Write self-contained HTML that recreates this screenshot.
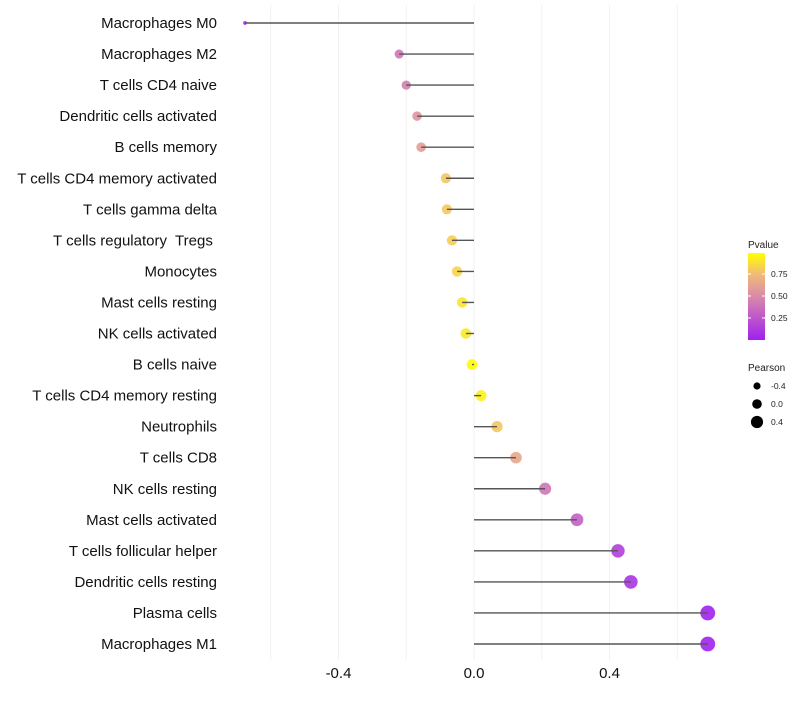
<!DOCTYPE html>
<html><head><meta charset="utf-8"><style>
body{margin:0;background:#fff;font-family:"Liberation Sans",sans-serif;}
svg text{font-family:"Liberation Sans",sans-serif;white-space:pre;}
</style></head><body>
<svg id="chart" width="800" height="700">
<defs><linearGradient id="pg" x1="0" y1="1" x2="0" y2="0">
<stop offset="0" stop-color="#a020f0"/><stop offset="0.5" stop-color="#d98aa8"/><stop offset="0.75" stop-color="#f2b97a"/><stop offset="1" stop-color="#ffff00"/></linearGradient></defs>
<g id="grid"></g>
<g id="marks"></g>
<g id="ylabels"></g>
<g id="xlabels"></g>
<g>
<text x="748" y="248" font-size="10" fill="#222">Pvalue</text>
<rect x="748" y="253" width="17" height="87" fill="url(#pg)"/>
<g id="cbticks"></g>
</g>
<g id="sizeleg">
<text x="748" y="371" font-size="10" fill="#222">Pearson</text>
</g>
</svg>
<script>
const categories=["Macrophages M0","Macrophages M2","T cells CD4 naive","Dendritic cells activated","B cells memory","T cells CD4 memory activated","T cells gamma delta","T cells regulatory  Tregs ","Monocytes","Mast cells resting","NK cells activated","B cells naive","T cells CD4 memory resting","Neutrophils","T cells CD8","NK cells resting","Mast cells activated","T cells follicular helper","Dendritic cells resting","Plasma cells","Macrophages M1"];
const pearson=[-0.676,-0.221,-0.2,-0.168,-0.156,-0.083,-0.08,-0.065,-0.05,-0.035,-0.024,-0.006,0.021,0.068,0.124,0.21,0.304,0.425,0.463,0.69,0.69];
const pvalue=[0.02,0.4,0.45,0.55,0.6,0.8,0.8,0.82,0.85,0.9,0.92,0.99,0.95,0.8,0.65,0.4,0.3,0.15,0.1,0.01,0.01];
const xTicks=[-0.4,0,0.4];
const xTickLabels=["-0.4","0.0","0.4"];
const minorTicks=[-0.6,-0.2,0.2,0.6];
const cbTicks=[0.25,0.5,0.75];
const sizeLegend=[-0.4,0,0.4];
const sizeLegendLabels=["-0.4","0.0","0.4"];
const NS="http://www.w3.org/2000/svg";
const x=v=>474+v*338.75;
const y=i=>23+i*31.05;
const r=v=>Math.sqrt(Math.max(2.5,29+38*v));
function mix(a,b,t){return a.map((c,k)=>Math.round(c+(b[k]-c)*t));}
function col(p){const s=[[0,[160,32,240]],[0.5,[217,138,168]],[0.75,[242,185,122]],[1,[255,255,0]]];
for(let k=1;k<s.length;k++){if(p<=s[k][0]){const t=(p-s[k-1][0])/(s[k][0]-s[k-1][0]);return "rgb("+mix(s[k-1][1],s[k][1],t).join(",")+")";}}return "rgb(255,255,0)";}
function el(tag,attrs,parent){const e=document.createElementNS(NS,tag);for(const k in attrs)e.setAttribute(k,attrs[k]);parent.appendChild(e);return e;}
const grid=document.getElementById('grid'),marks=document.getElementById('marks'),yl=document.getElementById('ylabels'),xl=document.getElementById('xlabels');
minorTicks.concat(xTicks).forEach(v=>{const g=el('line',{x1:x(v),x2:x(v),y1:5,y2:660,stroke:'#f2f2f2','stroke-width':1},grid);

});
xTicks.forEach((v,i)=>{const t=el('text',{x:x(v),y:678,'font-size':15,'text-anchor':'middle',fill:'#111'},xl);t.textContent=xTickLabels[i];

});
categories.forEach((c,i)=>{
const t=el('text',{x:217,y:y(i)+5,'font-size':15,'text-anchor':'end',fill:'#111'},yl);t.textContent=c;


const d=el('circle',{cx:x(pearson[i]),cy:y(i),r:r(pearson[i]),fill:col(pvalue[i]),'fill-opacity':0.9},marks);


const ln=el('line',{x1:x(0),x2:x(pearson[i]),y1:y(i),y2:y(i),stroke:'#555','stroke-width':1.4},marks);


});
const cb=document.getElementById('cbticks');
cbTicks.forEach(v=>{const yy=340-v*88;
const a=el('line',{x1:748,x2:751,y1:yy,y2:yy,stroke:'#fff'},cb);
const b=el('line',{x1:762,x2:765,y1:yy,y2:yy,stroke:'#fff'},cb);
const t=el('text',{x:771,y:yy+3,'font-size':8.5,fill:'#222'},cb);t.textContent=v.toFixed(2);

});
const sg=document.getElementById('sizeleg');
const lr=[3.6,4.8,6.1];
sizeLegend.forEach((v,i)=>{const yy=386+i*18;
const c=el('circle',{cx:757,cy:yy,r:lr[i],fill:'#000'},sg);


const t=el('text',{x:771,y:yy+3,'font-size':8.5,fill:'#222'},sg);t.textContent=sizeLegendLabels[i];

});
</script>
</body></html>
